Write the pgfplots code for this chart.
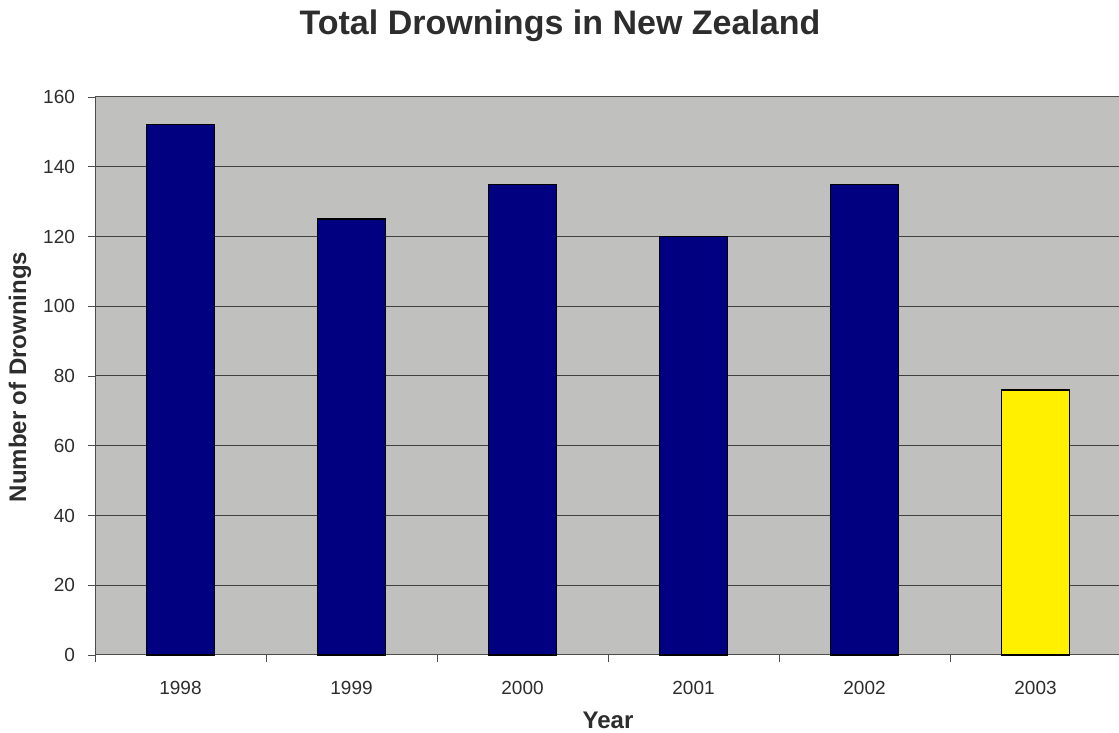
\documentclass[border=0pt]{standalone}
\usepackage{pgfplots}
\pgfplotsset{compat=1.18}
\usepackage{fontspec}
\setmainfont{Liberation Sans}
\definecolor{plotbg}{RGB}{192,193,191}
\definecolor{barnavy}{RGB}{0,0,128}
\definecolor{baryellow}{RGB}{255,240,0}
\definecolor{txt}{RGB}{45,45,45}
\begin{document}
\begin{tikzpicture}[x=1pt,y=1pt]
\useasboundingbox (0,0) rectangle (559.5,366.5);
\begin{axis}[
  at={(47.5pt,39pt)}, anchor=south west,
  scale only axis, width=512pt, height=279pt,
  xmin=-0.5, xmax=5.488, ymin=0, ymax=160,
  ytick={0,20,...,160},
  xtick={0,1,2,3,4,5},
  xticklabels={1998,1999,2000,2001,2002,2003},
  minor xtick={-0.5,0.5,1.5,2.5,3.5,4.5},
  major x tick style={draw=none},
  xtick pos=bottom, ytick pos=left,
  tick align=outside,
  major tick length=3.5pt, minor tick length=3.5pt,
  tick style={black!70, thin},
  ymajorgrids, grid style={black!75, line width=0.5pt},
  axis line style={black!70, line width=0.5pt},
  axis background/.style={fill=plotbg},
  /pgf/number format/assume math mode=true,
  tick label style={font=\fontsize{9.5}{11}\selectfont, text=txt},
  xticklabel style={yshift=-6pt},
  yticklabel style={xshift=-3pt},
  ybar, bar width=34pt, bar shift=0pt,
  clip=false,
]
\addplot[fill=barnavy, draw=black, line width=0.6pt] coordinates {(0,152) (1,125) (2,135) (3,120) (4,135)};
\addplot[fill=baryellow, draw=black, line width=0.6pt] coordinates {(5,76)};
\end{axis}
\node[font=\fontsize{17}{20}\selectfont\bfseries, text=txt] at (280,353.5) {Total Drownings in New Zealand};
\node[font=\fontsize{12}{14}\selectfont\bfseries, text=txt, rotate=90] at (10,178) {Number of Drownings};
\node[font=\fontsize{12}{14}\selectfont\bfseries, text=txt] at (304,6.5) {Year};
\end{tikzpicture}
\end{document}
